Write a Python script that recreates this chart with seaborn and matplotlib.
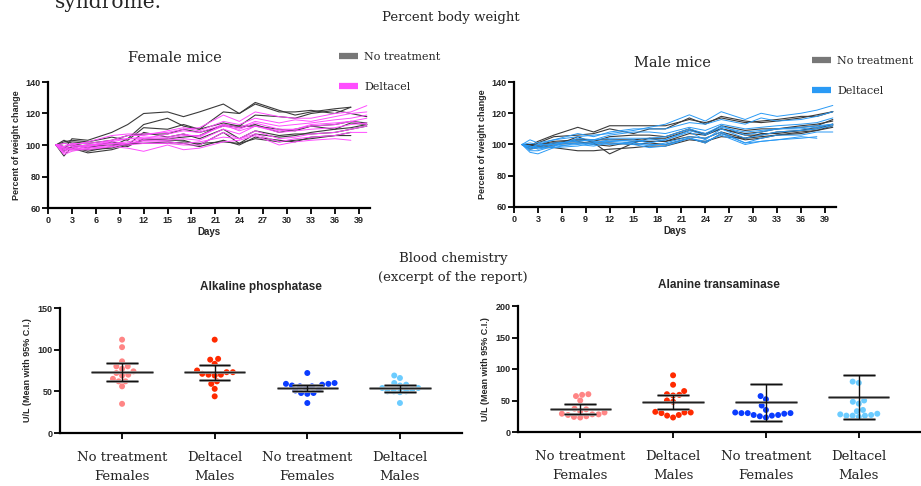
import numpy as np
import pandas as pd
import matplotlib
matplotlib.use("Agg")
import matplotlib.pyplot as plt
from matplotlib.lines import Line2D
import seaborn as sns

# ---------------- data ----------------
days = [1, 2, 3, 5, 8, 10, 12, 15, 17, 19, 22, 24, 26, 29, 31, 33, 36, 38, 40]

female_nt = [
    [100, 97, 104, 103, 108, 113, 120, 121, 118, 121, 126, 120, 127, 122, 119, 121, 123, 124],
    [100, 93, 99, 96, 99, 104, 113, 117, 112, 110, 121, 120, 126, 121, 121, 122, 120, 124],
    [100, 102, 103, 102, 105, 103, 111, 110, 113, 110, 114, 112, 119, 118, 117, 120, 122, 120, 118],
    [100, 99, 98, 95, 97, 100, 103, 104, 105, 106, 113, 111, 113, 108, 110, 112, 113, 115, 114],
    [100, 96, 99, 100, 101, 99, 104, 103, 103, 100, 108, 101, 107, 105, 106, 108, 110, 111, 113],
    [100, 101, 102, 101, 103, 106, 107, 107, 110, 108, 112, 112, 112, 110, 109, 112, 110, 114, 113],
    [100, 98, 97, 97, 98, 101, 101, 102, 101, 99, 103, 100, 105, 103, 102, 105, 106, 108],
    [100, 99, 100, 98, 102, 100, 108, 105, 107, 104, 110, 104, 109, 106, 107, 107, 108, 110, 112],
    [100, 103, 101, 99, 100, 101, 101, 101, 102, 101, 102, 101, 104, 102, 103, 104, 106, 106],
]
female_dt = [
    [100, 99, 100, 102, 106, 107, 107, 108, 110, 111, 119, 115, 121, 118, 117, 117, 120, 121, 125],
    [100, 95, 97, 99, 103, 106, 106, 109, 111, 109, 115, 113, 117, 114, 116, 115, 118, 120, 121],
    [100, 98, 99, 100, 102, 104, 104, 104, 106, 106, 112, 110, 114, 110, 110, 112, 113, 115, 117],
    [100, 96, 98, 100, 101, 101, 103, 103, 104, 103, 110, 107, 112, 108, 109, 110, 111, 113, 114],
    [100, 97, 98, 98, 100, 100, 101, 101, 100, 100, 108, 104, 109, 104, 105, 107, 108, 110, 112],
    [100, 94, 96, 98, 99, 98, 96, 100, 97, 98, 102, 103, 106, 100, 102, 103, 104, 103],
    [100, 99, 101, 101, 103, 104, 105, 105, 107, 105, 113, 109, 112, 109, 110, 113, 114, 115, 113],
    [100, 98, 97, 97, 99, 101, 102, 102, 101, 102, 105, 104, 107, 102, 104, 105, 106, 108, 108],
    [100, 101, 100, 99, 101, 102, 104, 107, 109, 108, 113, 111, 115, 112, 113, 114, 116, 117, 119],
]
male_nt = [
    [100, 99, 102, 106, 111, 108, 112, 112, 112, 112, 116, 114, 117, 114, 115, 116, 118, 118, 121],
    [100, 98, 101, 105, 106, 107, 110, 107, 110, 110, 117, 113, 118, 115, 114, 115, 117, 119, 121],
    [100, 99, 99, 99, 105, 101, 94, 101, 104, 102, 107, 106, 110, 107, 108, 110, 111, 112, 116],
    [100, 97, 98, 98, 96, 96, 97, 98, 99, 99, 103, 102, 105, 104, 105, 106, 108, 109, 111],
    [100, 98, 99, 101, 103, 102, 105, 106, 106, 105, 110, 106, 112, 109, 110, 110, 112, 113, 115],
    [100, 100, 100, 102, 103, 103, 103, 103, 104, 104, 109, 107, 110, 106, 106, 108, 109, 111, 113],
    [100, 98, 98, 100, 101, 101, 101, 100, 101, 100, 104, 101, 107, 103, 104, 106, 107, 109, 112],
    [100, 99, 100, 101, 102, 100, 99, 102, 102, 102, 105, 104, 108, 104, 107, 107, 109, 110, 113],
]
male_dt = [
    [100, 98, 100, 103, 105, 106, 107, 109, 111, 113, 119, 115, 121, 116, 120, 118, 120, 122, 125],
    [100, 103, 101, 103, 107, 105, 108, 110, 110, 110, 114, 113, 116, 113, 117, 115, 116, 118, 121],
    [100, 96, 96, 99, 104, 103, 106, 108, 108, 107, 111, 109, 113, 110, 111, 112, 113, 114, 117],
    [100, 95, 94, 98, 101, 101, 103, 102, 103, 103, 109, 106, 111, 108, 109, 110, 111, 112, 113],
    [100, 97, 98, 100, 103, 102, 102, 103, 101, 103, 108, 103, 110, 104, 106, 108, 109, 110, 112],
    [100, 99, 97, 99, 100, 99, 101, 100, 98, 99, 104, 102, 106, 100, 102, 103, 105, 104],
    [100, 98, 99, 101, 102, 103, 104, 104, 104, 105, 110, 107, 112, 106, 108, 110, 110, 111, 113],
    [100, 101, 100, 100, 101, 100, 102, 101, 99, 101, 105, 104, 108, 101, 104, 106, 106, 108, 108],
    [100, 99, 98, 98, 99, 101, 100, 101, 100, 100, 104, 101, 107, 101, 102, 103, 104, 105],
]

group_labels = ["No treatment", "Deltacel"]

cat_keys = ["NT_F", "DT_M", "NT_F2", "DT_M2"]
cat_labels = ["No treatment\nFemales", "Deltacel\nMales", "No treatment\nFemales", "Deltacel\nMales"]

alp_values = {
    "NT_F": [112, 103, 86, 80, 80, 77, 74, 72, 70, 69, 65, 62, 62, 56, 35],
    "DT_M": [112, 89, 88, 83, 75, 73, 73, 71, 70, 70, 69, 62, 59, 53, 44],
    "NT_F2": [72, 60, 59, 59, 58, 57, 56, 56, 54, 52, 51, 48, 48, 47, 36],
    "DT_M2": [69, 66, 60, 58, 57, 54, 54, 52, 50, 50, 50, 49, 36],
}
alp_mean = [73, 73, 54, 54]
alp_ci_low = [63, 64, 50, 49]
alp_ci_high = [83.5, 82, 58, 58]

alt_values = {
    "NT_F": [60, 59, 57, 50, 37, 36, 33, 31, 29, 28, 28, 27, 25, 24, 23],
    "DT_M": [90, 75, 65, 60, 59, 58, 50, 48, 32, 31, 31, 30, 27, 26, 23],
    "NT_F2": [57, 52, 42, 35, 31, 30, 30, 30, 29, 27, 27, 26, 25, 23],
    "DT_M2": [80, 78, 50, 48, 45, 35, 33, 29, 28, 27, 26, 26, 26, 24],
}
alt_mean = [36, 48, 47, 56]
alt_ci_low = [29, 37, 18, 21]
alt_ci_high = [44, 59, 76, 90]

# ---------------- styling ----------------
sns.set_style("ticks")
plt.rcParams["font.family"] = ["Liberation Sans", "DejaVu Sans"]
SERIF = ["DejaVu Serif"]

GRAY = "#3a3a3a"
LEG_GRAY = "#777777"
PINK = "#ff4dff"
BLUE = "#2a9af5"
cat_colors = {"NT_F": "#ff8585", "DT_M": "#ff2a00", "NT_F2": "#0a3cff", "DT_M2": "#6cccff"}

W, H = 921, 486
fig = plt.figure(figsize=(W / 100, H / 100), dpi=100)


def frac(left, top, right, bottom):
    return [left / W, 1 - bottom / H, (right - left) / W, (bottom - top) / H]


def to_long(series_list, group):
    rows = []
    for m, ser in enumerate(series_list):
        for d, v in zip(days, ser):
            rows.append({"day": d, "pct": v, "mouse": f"{group}{m}", "group": group})
    return rows


def style_axes(ax):
    sns.despine(ax=ax)
    for s in ("left", "bottom"):
        ax.spines[s].set_linewidth(1.6)
        ax.spines[s].set_color("black")
    ax.tick_params(axis="both", width=1.3, length=4, color="black",
                   labelsize=6.5, pad=1.5)
    for lab in ax.get_xticklabels() + ax.get_yticklabels():
        lab.set_fontweight("bold")


def weight_panel(rect, nt, dt, dcolor, title, title_xy, leg_xy):
    ax = fig.add_axes(rect)
    df = pd.DataFrame(to_long(nt, group_labels[0]) + to_long(dt, group_labels[1]))
    sns.lineplot(data=df[df.group == group_labels[0]], x="day", y="pct", units="mouse",
                 estimator=None, color=GRAY, lw=0.8, ax=ax, legend=False)
    sns.lineplot(data=df[df.group == group_labels[1]], x="day", y="pct", units="mouse",
                 estimator=None, color=dcolor, lw=0.7, ax=ax, legend=False)
    ax.set_xlim(0, 40.4)
    ax.set_ylim(60, 140)
    ax.set_xticks(range(0, 40, 3))
    ax.set_yticks(range(60, 141, 20))
    ax.set_xlabel("Days", fontsize=7, fontweight="bold", labelpad=2)
    ax.set_ylabel("Percent of weight change", fontsize=6.5, fontweight="bold", labelpad=3)
    style_axes(ax)
    fig.text(title_xy[0] / W, 1 - title_xy[1] / H, title, family=SERIF, fontsize=10.5,
             ha="center", va="center")
    handles = [Line2D([], [], color=LEG_GRAY, lw=4.5, solid_capstyle="butt"),
               Line2D([], [], color=dcolor, lw=4.5, solid_capstyle="butt")]
    fig.legend(handles, group_labels, loc="upper left",
               bbox_to_anchor=(leg_xy[0] / W, 1 - leg_xy[1] / H), frameon=False,
               prop={"family": SERIF, "size": 8}, handlelength=1.7, handletextpad=0.55,
               labelspacing=1.8, borderpad=0, borderaxespad=0)
    return ax


weight_panel(frac(48, 82, 370, 208), female_nt, female_dt, PINK, "Female mice", (175, 58), (339, 52))
weight_panel(frac(514, 82, 836, 207), male_nt, male_dt, BLUE, "Male mice", (672, 63), (812, 56))


def chem_panel(rect, values, means, lows, highs, ymax, title, title_xy):
    ax = fig.add_axes(rect)
    rows = [{"cat": k, "val": v} for k in cat_keys for v in values[k]]
    df = pd.DataFrame(rows)
    sns.swarmplot(data=df, x="cat", y="val", hue="cat", order=cat_keys,
                  palette=cat_colors, size=4.3, ax=ax, legend=False, zorder=2)
    for i, (m, lo, hi) in enumerate(zip(means, lows, highs)):
        ax.hlines(m, i - 0.33, i + 0.33, color="#8a8a8a", lw=2.0, zorder=3)
        ax.hlines(m, i - 0.33, i + 0.33, color="#222222", lw=0.8, zorder=4)
        ax.vlines(i, lo, hi, color="#111111", lw=1.0, zorder=4)
        ax.hlines([lo, hi], i - 0.17, i + 0.17, color="#8a8a8a", lw=2.0, zorder=3)
        ax.hlines([lo, hi], i - 0.17, i + 0.17, color="#111111", lw=0.8, zorder=4)
    ax.set_xlim(-0.67, 3.67)
    ax.set_ylim(0, ymax)
    ax.set_yticks(range(0, ymax + 1, 50))
    ax.set_xticks(range(len(cat_keys)))
    ax.set_xlabel("")
    ax.set_ylabel("U/L (Mean with 95% C.I.)", fontsize=6.5, fontweight="bold", labelpad=4)
    style_axes(ax)
    ax.set_xticklabels(cat_labels, family=SERIF, fontsize=9.5, fontweight="normal",
                       linespacing=1.55)
    ax.tick_params(axis="x", pad=9)
    fig.text(title_xy[0] / W, 1 - title_xy[1] / H, title, fontsize=8.5,
             fontweight="bold", ha="center", va="center")
    return ax


chem_panel(frac(60, 308, 462, 433), alp_values, alp_mean, alp_ci_low, alp_ci_high, 150,
           "Alkaline phosphatase", (261, 287))
chem_panel(frac(518, 306, 921, 432), alt_values, alt_mean, alt_ci_low, alt_ci_high, 200,
           "Alanine transaminase", (719, 285))

# ---------------- figure texts ----------------
fig.text(55 / W, 1 - 8 / H, "syndrome.", family=SERIF, fontsize=14.5, ha="left", va="baseline")
fig.text(451 / W, 1 - 18 / H, "Percent body weight", family=SERIF, fontsize=9.5,
         ha="center", va="center")
fig.text(453 / W, 1 - 258 / H, "Blood chemistry", family=SERIF, fontsize=9.5,
         ha="center", va="center")
fig.text(453 / W, 1 - 278 / H, "(excerpt of the report)", family=SERIF, fontsize=9.5,
         ha="center", va="center")

fig.savefig("out.png", dpi=100, facecolor="white")
